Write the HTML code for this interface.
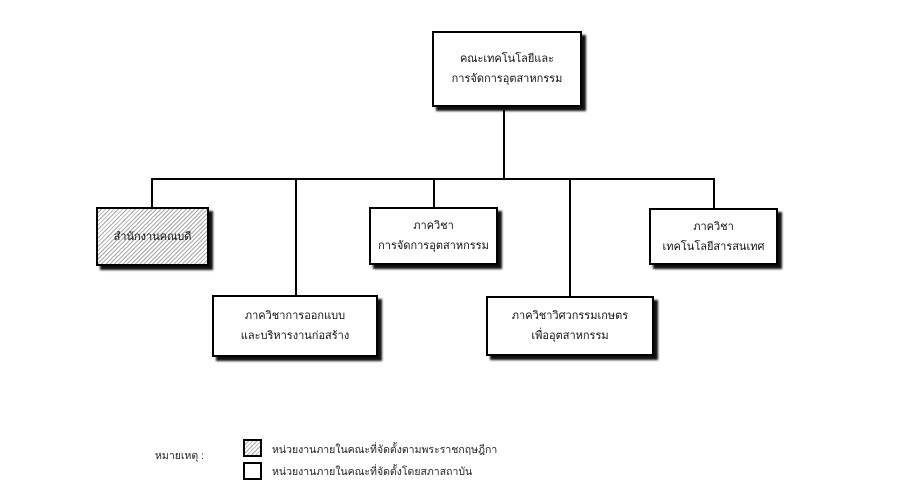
<!DOCTYPE html>
<html><head><meta charset="utf-8"><style>
html,body{margin:0;padding:0;background:#fff;}
body{width:919px;height:503px;position:relative;overflow:hidden;font-family:"Liberation Sans","Noto Sans CJK SC",sans-serif;}
.b{position:absolute;box-sizing:border-box;border:2px solid #000;background:#fff;box-shadow:4px 4px 2px #111;display:flex;align-items:center;justify-content:center;text-align:center;font-size:11px;line-height:20px;color:#111;}
.l{position:absolute;background:#000;}
.t{position:absolute;font-size:10.5px;color:#222;white-space:nowrap;}
.lb{position:absolute;box-sizing:border-box;border:2px solid #000;width:19px;height:18px;background:#fff;}
.h{background:repeating-linear-gradient(135deg,#fff 0,#fff 2px,#a8a8a8 2px,#a8a8a8 3px);}
</style></head><body>
<div class="l" style="left:503px;top:107px;width:2px;height:73px"></div>
<div class="l" style="left:151px;top:178px;width:564px;height:2px"></div>
<div class="l" style="left:151px;top:178px;width:2px;height:30px"></div>
<div class="l" style="left:295px;top:178px;width:2px;height:118px"></div>
<div class="l" style="left:433px;top:178px;width:2px;height:30px"></div>
<div class="l" style="left:569px;top:178px;width:2px;height:119px"></div>
<div class="l" style="left:713px;top:178px;width:2px;height:31px"></div>

<div class="b" style="left:432px;top:31px;width:150px;height:76px">คณะเทคโนโลยีและ<br>การจัดการอุตสาหกรรม</div>
<div class="b h" style="left:96px;top:207px;width:113px;height:59px">สำนักงานคณบดี</div>
<div class="b" style="left:369px;top:207px;width:129px;height:58px">ภาควิชา<br>การจัดการอุตสาหกรรม</div>
<div class="b" style="left:649px;top:208px;width:129px;height:57px">ภาควิชา<br>เทคโนโลยีสารสนเทศ</div>
<div class="b" style="left:212px;top:295px;width:166px;height:62px">ภาควิชาการออกแบบ<br>และบริหารงานก่อสร้าง</div>
<div class="b" style="left:486px;top:296px;width:168px;height:60px">ภาควิชาวิศวกรรมเกษตร<br>เพื่ออุตสาหกรรม</div>

<div class="t" style="left:155px;top:447px">หมายเหตุ :</div>
<div class="lb h" style="left:243px;top:439px"></div>
<div class="lb" style="left:243px;top:462px"></div>
<div class="t" style="left:272px;top:441px">หน่วยงานภายในคณะที่จัดตั้งตามพระราชกฤษฎีกา</div>
<div class="t" style="left:272px;top:463px">หน่วยงานภายในคณะที่จัดตั้งโดยสภาสถาบัน</div>
</body></html>
